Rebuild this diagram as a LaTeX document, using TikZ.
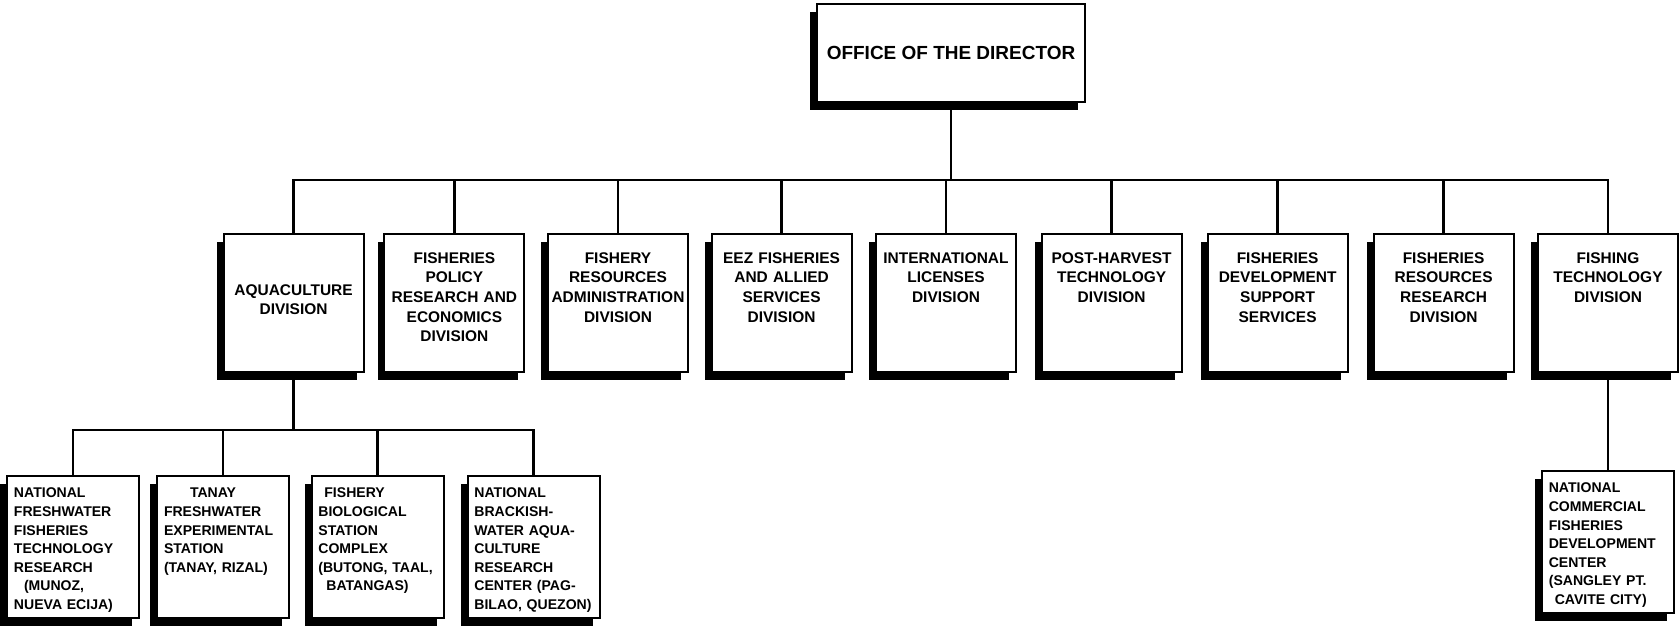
\documentclass[tikz,border=0pt]{standalone}
\usepackage{fontspec}
\setmainfont{Liberation Sans}
\usetikzlibrary{shadows}

\begin{document}
\begin{tikzpicture}[
    boxshadow/.style={drop shadow={shadow xshift=-0.17cm, shadow yshift=-0.2cm, fill=black, opacity=1}},
    dirbox/.style={draw, fill=white, line width=1.3pt, boxshadow, minimum width=6.7cm,
                   minimum height=2.45cm, font=\fontsize{13.5}{16}\selectfont\bfseries},
    divbox/.style={draw, fill=white, line width=1.3pt, boxshadow, anchor=north, align=center,
                   text width=3.42cm, inner xsep=0.04cm, inner ysep=0.43cm,
                   text height=0.3cm, text depth=2.3cm, font=\fontsize{11}{14}\selectfont\bfseries},
    unitbox/.style={draw, fill=white, line width=1.3pt, boxshadow, anchor=north, align=left,
                    text width=2.96cm, inner xsep=0.17cm, inner ysep=0.27cm,
                    text height=0.28cm, text depth=2.73cm, font=\fontsize{10}{13.2}\selectfont\bfseries},
    conn/.style={line width=1.6pt}
]
    \useasboundingbox (0,0) rectangle (42,-15.725);

    % the office on top
    \node[dirbox] (dir) at (23.775,-1.325) {OFFICE OF THE DIRECTOR};

    % divisions hanging from the main bar
    \node[divbox, text height=1.1cm, text depth=1.5cm] (aqua) at (7.34,-5.825) {AQUACULTURE\\DIVISION};
    \node[divbox] (policy)      at (11.36,-5.825) {FISHERIES\\POLICY\\RESEARCH AND\\ECONOMICS\\DIVISION};
    \node[divbox] (admin)       at (15.45,-5.825) {FISHERY\\RESOURCES\\ADMINISTRATION\\DIVISION};
    \node[divbox] (eez)         at (19.54,-5.825) {EEZ FISHERIES\\AND ALLIED\\SERVICES\\DIVISION};
    \node[divbox] (licenses)    at (23.65,-5.825) {INTERNATIONAL\\LICENSES\\DIVISION};
    \node[divbox] (postharvest) at (27.79,-5.825) {POST-HARVEST\\TECHNOLOGY\\DIVISION};
    \node[divbox] (devsupport)  at (31.94,-5.825) {FISHERIES\\DEVELOPMENT\\SUPPORT\\SERVICES};
    \node[divbox] (research)    at (36.09,-5.825) {FISHERIES\\RESOURCES\\RESEARCH\\DIVISION};
    \node[divbox] (fishtech)    at (40.2,-5.825)  {FISHING\\TECHNOLOGY\\DIVISION};

    % stations under aquaculture
    \node[unitbox] (freshwater) at (1.83,-11.875) {NATIONAL\\FRESHWATER\\FISHERIES\\TECHNOLOGY\\RESEARCH\\\hspace*{0.25cm}(MUNOZ,\\NUEVA ECIJA)};
    \node[unitbox] (tanay)      at (5.58,-11.875) {\hspace*{0.65cm}TANAY\\FRESHWATER\\EXPERIMENTAL\\STATION\\(TANAY, RIZAL)};
    \node[unitbox] (biostation) at (9.44,-11.875) {\hspace*{0.15cm}FISHERY\\BIOLOGICAL\\STATION\\COMPLEX\\(BUTONG, TAAL,\\\hspace*{0.2cm}BATANGAS)};
    \node[unitbox] (brackish)   at (13.34,-11.875) {NATIONAL\\BRACKISH-\\WATER AQUA-\\CULTURE\\RESEARCH\\CENTER (PAG-\\BILAO, QUEZON)};

    % center under fishing technology
    \node[unitbox] (commercial) at (40.2,-11.75) {NATIONAL\\COMMERCIAL\\FISHERIES\\DEVELOPMENT\\CENTER\\(SANGLEY PT.\\\hspace*{0.15cm}CAVITE CITY)};

    \coordinate (bar) at (0,-4.5);
    \coordinate (subbar) at (0,-10.75);

    \foreach \d in {aqua,policy,admin,eez,licenses,postharvest,devsupport,research,fishtech}
        \draw[conn] (dir.south) -- (dir.south |- bar) -| (\d.north);
    \foreach \s in {freshwater,tanay,biostation,brackish}
        \draw[conn] (aqua.south) -- (aqua.south |- subbar) -| (\s.north);
    \draw[conn] (fishtech.south) -- (commercial.north);
\end{tikzpicture}
\end{document}
